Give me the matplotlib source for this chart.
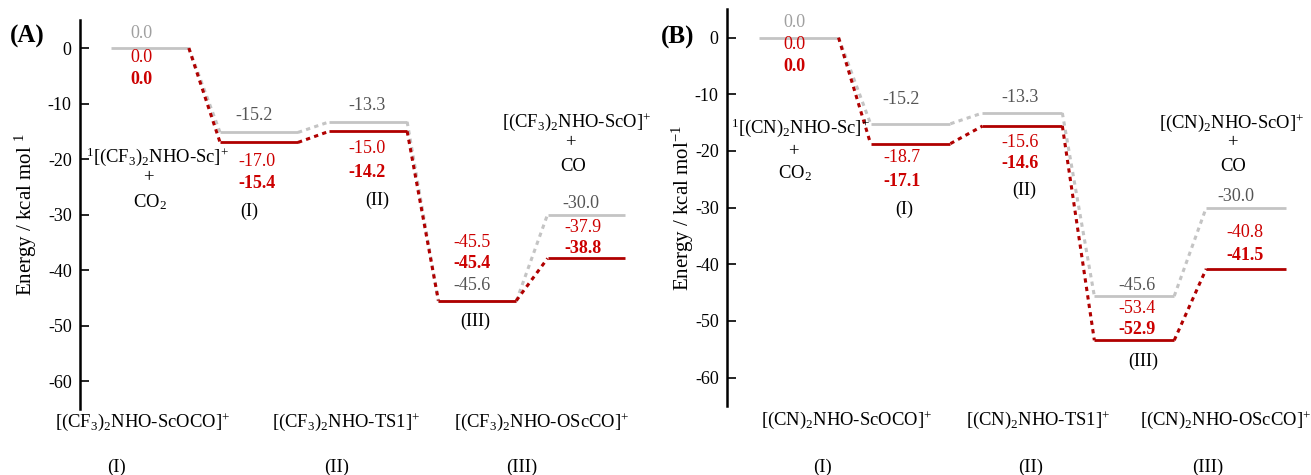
import matplotlib
matplotlib.use("Agg")
import matplotlib.pyplot as plt

plt.rcParams['font.family'] = ['Liberation Serif', 'DejaVu Serif']
plt.rcParams['mathtext.fontset'] = 'custom'
plt.rcParams['mathtext.rm'] = 'Liberation Serif'
plt.rcParams['mathtext.it'] = 'Liberation Serif:italic'
plt.rcParams['mathtext.bf'] = 'Liberation Serif:bold'
plt.rcParams['axes.unicode_minus'] = False

# ---------------- data ----------------
steps = [0, 1, 2, 3, 4]
A_gray = [0.0, -15.2, -13.3, -45.6, -30.0]
A_red = [0.0, -17.0, -15.0, -45.5, -37.9]
A_bold = [0.0, -15.4, -14.2, -45.4, -38.8]
B_gray = [0.0, -15.2, -13.3, -45.6, -30.0]
B_red = [0.0, -18.7, -15.6, -53.4, -40.8]
B_bold = [0.0, -17.1, -14.6, -52.9, -41.5]
roman = ["(I)", "(II)", "(III)"]
yticks = [0, -10, -20, -30, -40, -50, -60]
A_species = [r"$^{1}$[(CF$_{3}$)$_{2}$NHO-Sc]$^{+}$", r"[(CF$_{3}$)$_{2}$NHO-ScO]$^{+}$"]
B_species = [r"$^{1}$[(CN)$_{2}$NHO-Sc]$^{+}$", r"[(CN)$_{2}$NHO-ScO]$^{+}$"]
A_bottom = [r"[(CF$_{3}$)$_{2}$NHO-ScOCO]$^{+}$", r"[(CF$_{3}$)$_{2}$NHO-TS1]$^{+}$",
            r"[(CF$_{3}$)$_{2}$NHO-OScCO]$^{+}$"]
B_bottom = [r"[(CN)$_{2}$NHO-ScOCO]$^{+}$", r"[(CN)$_{2}$NHO-TS1]$^{+}$",
            r"[(CN)$_{2}$NHO-OScCO]$^{+}$"]

# ---------------- style ----------------
GRAY_LINE = '#c4c4c4'
RED_LINE = '#b00000'
RED_TXT = '#cc0000'
GRAY_TXT = '#555555'
LIGHT_TXT = '#a0a0a0'
FS = 13
FS_SP = 13.4
HW = 0.357

W, H = 1311, 475
fig = plt.figure(figsize=(W / 100, H / 100), dpi=100)

def px_axes(l, r, t, b):
    return fig.add_axes([l / W, 1 - b / H, (r - l) / W, (b - t) / H])

axA = px_axes(80, 640, 20.3, 408.8)
axB = px_axes(727, 1301, 9.3, 406)


def draw(ax, gray, red):
    for i in steps:
        ax.plot([i - HW, i + HW], [gray[i], gray[i]], color=GRAY_LINE, lw=2.0,
                solid_capstyle='butt', zorder=2)
    for i in steps[:-1]:
        ax.plot([i + HW, i + 1 - HW], [gray[i], gray[i + 1]], color=GRAY_LINE, lw=2.2,
                linestyle=(0, (1.4, 1.4)), zorder=2)
    for i in steps[1:]:
        ax.plot([i - HW, i + HW], [red[i], red[i]], color=RED_LINE, lw=2.0,
                solid_capstyle='butt', zorder=3)
    for i in steps[:-1]:
        ax.plot([i + HW, i + 1 - HW], [red[i], red[i + 1]], color=RED_LINE, lw=2.2,
                linestyle=(0, (1.4, 1.4)), zorder=3)
    ax.set_xlim(-0.64, 4.49)
    ax.set_ylim(-65, 5)
    ax.set_yticks(yticks)
    ax.set_yticklabels([str(t) for t in yticks])
    for s in ['top', 'right', 'bottom']:
        ax.spines[s].set_visible(False)
    ax.spines['left'].set_linewidth(1.8)
    ax.tick_params(axis='y', direction='in', length=6.5, width=1.2, pad=6, labelsize=FS)
    ax.set_xticks([])
    ax.patch.set_alpha(0)


def lab(ax, x, y, txt, dx, dy, color, bold=False):
    ax.annotate(txt, xy=(x, y), xytext=(dx, -dy), textcoords='offset pixels',
                ha='center', va='center', fontsize=FS, color=color,
                fontweight='bold' if bold else 'normal')


def fmt(v):
    return f"{v:.1f}"

# ---------------- panel A ----------------
draw(axA, A_gray, A_red)
g, r, b = A_gray, A_red, A_bold
lab(axA, 0, g[0], fmt(g[0]), -8, -15, LIGHT_TXT)
lab(axA, 0, r[0], fmt(r[0]), -8, 9, RED_TXT)
lab(axA, 0, r[0], fmt(b[0]), -8, 31, RED_TXT, True)
lab(axA, 1, g[1], fmt(g[1]), -5, -17, GRAY_TXT)
lab(axA, 1, r[1], fmt(r[1]), -2, 19, RED_TXT)
lab(axA, 1, r[1], fmt(b[1]), -2, 41, RED_TXT, True)
lab(axA, 1, r[1], roman[0], -10, 69, 'black')
lab(axA, 2, g[2], fmt(g[2]), -1, -16, GRAY_TXT)
lab(axA, 2, r[2], fmt(r[2]), -1, 17, RED_TXT)
lab(axA, 2, r[2], fmt(b[2]), -1, 41, RED_TXT, True)
lab(axA, 2, r[2], roman[1], 9, 69, 'black')
lab(axA, 3, r[3], fmt(r[3]), -5, -58, RED_TXT)
lab(axA, 3, r[3], fmt(b[3]), -5, -37, RED_TXT, True)
lab(axA, 3, g[3], fmt(g[3]), -5, -16, GRAY_TXT)
lab(axA, 3, r[3], roman[2], -2, 21, 'black')
lab(axA, 4, g[4], fmt(g[4]), -6, -11.5, GRAY_TXT)
lab(axA, 4, r[4], fmt(r[4]), -4, -31, RED_TXT)
lab(axA, 4, r[4], fmt(b[4]), -4, -10, RED_TXT, True)
axA.text(0.07, -19.6, A_species[0], ha='center', va='center', fontsize=FS_SP)
axA.text(-0.01, -23.4, "+", ha='center', va='center', fontsize=FS_SP)
axA.text(0.0, -27.7, r"CO$_{2}$", ha='center', va='center', fontsize=FS_SP)
axA.text(3.91, -13.3, A_species[1], ha='center', va='center', fontsize=FS_SP)
axA.text(3.85, -17.1, "+", ha='center', va='center', fontsize=FS_SP)
axA.text(3.88, -21.3, "CO", ha='center', va='center', fontsize=FS_SP)
axA.set_ylabel(r"Energy / kcal mol $^{1}$", fontsize=15)
axA.yaxis.set_label_coords(-0.073, 0.5)

# ---------------- panel B ----------------
draw(axB, B_gray, B_red)
g, r, b = B_gray, B_red, B_bold
lab(axB, 0, g[0], fmt(g[0]), -4.5, -15, LIGHT_TXT)
lab(axB, 0, r[0], fmt(r[0]), -4.5, 7, RED_TXT)
lab(axB, 0, r[0], fmt(b[0]), -4.5, 29, RED_TXT, True)
lab(axB, 1, g[1], fmt(g[1]), -9, -24, GRAY_TXT)
lab(axB, 1, r[1], fmt(r[1]), -9, 14, RED_TXT)
lab(axB, 1, r[1], fmt(b[1]), -9, 38, RED_TXT, True)
lab(axB, 1, r[1], roman[0], -6, 66, 'black')
lab(axB, 2, g[2], fmt(g[2]), -2, -16, GRAY_TXT)
lab(axB, 2, r[2], fmt(r[2]), -2, 16, RED_TXT)
lab(axB, 2, r[2], fmt(b[2]), -2, 37, RED_TXT, True)
lab(axB, 2, r[2], roman[1], 2, 64, 'black')
lab(axB, 3, g[3], fmt(g[3]), 3, -11, GRAY_TXT)
lab(axB, 3, g[3], fmt(r[3]), 3, 12, RED_TXT)
lab(axB, 3, r[3], fmt(b[3]), 3, -10.5, RED_TXT, True)
lab(axB, 3, r[3], roman[2], 9, 21.5, 'black')
lab(axB, 4, g[4], fmt(g[4]), -10, -11, GRAY_TXT)
lab(axB, 4, r[4], fmt(r[4]), -1, -36, RED_TXT)
lab(axB, 4, r[4], fmt(b[4]), -1, -13, RED_TXT, True)
axB.text(0.02, -15.9, B_species[0], ha='center', va='center', fontsize=FS_SP)
axB.text(-0.05, -20.2, "+", ha='center', va='center', fontsize=FS_SP)
axB.text(-0.03, -23.9, r"CO$_{2}$", ha='center', va='center', fontsize=FS_SP)
axB.text(3.87, -15.0, B_species[1], ha='center', va='center', fontsize=FS_SP)
axB.text(3.88, -18.6, "+", ha='center', va='center', fontsize=FS_SP)
axB.text(3.88, -22.8, "CO", ha='center', va='center', fontsize=FS_SP)
axB.set_ylabel(r"Energy / kcal mol$^{-1}$", fontsize=15)
axB.yaxis.set_label_coords(-0.054, 0.5)

# ---------------- bottom labels & panel letters ----------------
def ftext(x, y, s, fs=FS_SP, **kw):
    fig.text(x / W, 1 - y / H, s, ha='center', va='center', fontsize=fs, **kw)

for x, s in zip([143, 346, 542], A_bottom):
    ftext(x, 422, s)
for x, s in zip([117, 337, 522], roman):
    ftext(x, 467, s)
for x, s in zip([847, 1038, 1226], B_bottom):
    ftext(x, 420, s)
for x, s in zip([823, 1031, 1208], roman):
    ftext(x, 467, s)

ftext(27, 36, "(A)", fs=18, fontweight='bold')
ftext(678, 37, "(B)", fs=18, fontweight='bold')

fig.savefig("out.png", dpi=100)
